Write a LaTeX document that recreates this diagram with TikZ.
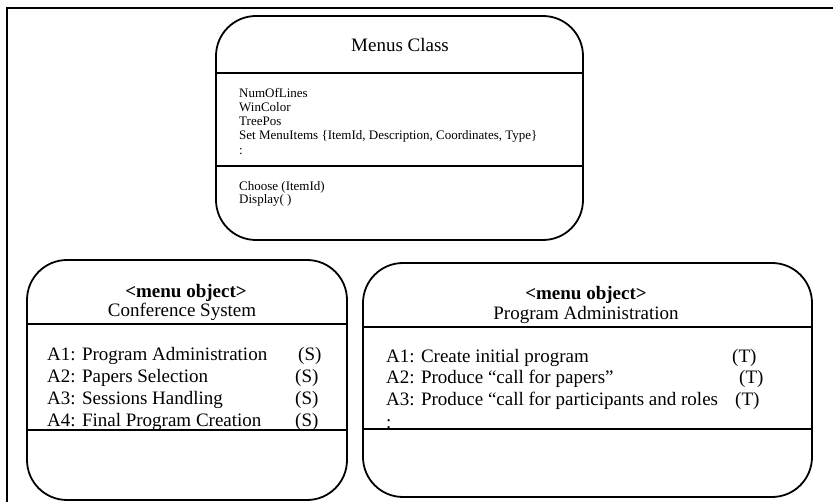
\documentclass[tikz,border=0pt]{standalone}
\usepackage{fontspec}
\setmainfont{Liberation Serif}
\begin{document}
\begin{tikzpicture}[x=1pt,y=-1pt,
  panel/.style={draw, line width=1.8pt, rounded corners=40pt, inner sep=0pt},
  rule/.style={line width=1.3pt},
  frameline/.style={line width=2pt},
  attr/.style={font=\fontsize{13}{15}\selectfont, anchor=base west, inner sep=0pt},
  item/.style={font=\fontsize{19}{22}\selectfont, anchor=base west, inner sep=0pt},
  title/.style={font=\fontsize{19}{22}\selectfont, anchor=base, inner sep=0pt},
  stereo/.style={font=\fontsize{19}{22}\selectfont\bfseries, anchor=base, inner sep=0pt},
]
\useasboundingbox (0,0) rectangle (833,502);

% page frame (left and top edges only)
\coordinate (fbl) at (7,502);
\coordinate (ftl) at (7,8);
\coordinate (ftr) at (833,8);
\draw[frameline] (fbl) -- (ftl) -- (ftr);

% ---- Menus Class ----
\node[panel, minimum width=367pt, minimum height=224pt] (menus) at (399.5,128) {};
\coordinate (m1) at (0,73);
\coordinate (m2) at (0,166);
\draw[rule] (menus.west |- m1) -- (menus.east |- m1);
\draw[rule] (menus.west |- m2) -- (menus.east |- m2);
\node[title] (mtitle) at (400,52) {Menus Class};
\node[attr] (ma1) at (239,97.5) {NumOfLines};
\node[attr] (ma2) at (239,111.5) {WinColor};
\node[attr] (ma3) at (239,125.5) {TreePos};
\node[attr] (ma4) at (239,139.5) {Set MenuItems \{ItemId, Description, Coordinates, Type\}};
\node[attr] (ma5) at (239,155) {:};
\node[attr] (mo1) at (239,190.5) {Choose (ItemId)};
\node[attr] (mo2) at (239,203.5) {Display( )};

% ---- Conference System ----
\node[panel, minimum width=320pt, minimum height=240pt] (conf) at (187,380) {};
\coordinate (c1) at (0,324);
\coordinate (c2) at (0,430);
\draw[rule] (conf.west |- c1) -- (conf.east |- c1);
\draw[rule] (conf.west |- c2) -- (conf.east |- c2);
\node[stereo] (cst) at (186,298) {<menu object>};
\node[title] (cname) at (182,317) {Conference System};
\node[item] (ci1) at (47,361) {A1: Program Administration};
\node[item] (ci2) at (47,383) {A2: Papers Selection};
\node[item] (ci3) at (47,405) {A3: Sessions Handling};
\node[item] (ci4) at (47,426.5) {A4: Final Program Creation};
\node[item] (cs1) at (298,361) {(S)};
\node[item] (cs2) at (295,383) {(S)};
\node[item] (cs3) at (295,405) {(S)};
\node[item] (cs4) at (295,426.5) {(S)};

% ---- Program Administration ----
\node[panel, minimum width=449pt, minimum height=234pt] (prog) at (587.5,380) {};
\coordinate (p1) at (0,327);
\coordinate (p2) at (0,429);
\draw[rule] (prog.west |- p1) -- (prog.east |- p1);
\draw[rule] (prog.west |- p2) -- (prog.east |- p2);
\node[stereo] (pst) at (586,300) {<menu object>};
\node[title] (pname) at (586,319.5) {Program Administration};
\node[item] (pi1) at (386,362.5) {A1: Create initial program};
\node[item] (pi2) at (386,384) {A2: Produce “call for papers”};
\node[item] (pi3) at (386,405.5) {A3: Produce “call for participants and roles};
\node[item] (pi4) at (386,428.5) {:};
\node[item] (pt1) at (732,362.5) {(T)};
\node[item] (pt2) at (739,384) {(T)};
\node[item] (pt3) at (735,405.5) {(T)};
\end{tikzpicture}
\end{document}
